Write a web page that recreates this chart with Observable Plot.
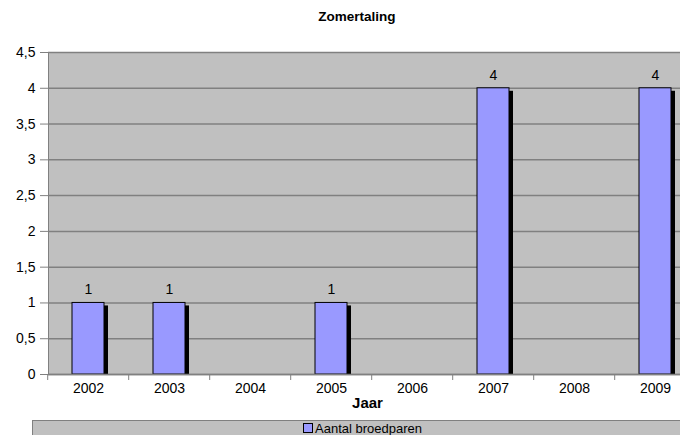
<!DOCTYPE html>
<html><head><meta charset="utf-8">
<script src="https://cdn.jsdelivr.net/npm/d3@7"></script>
<script src="https://cdn.jsdelivr.net/npm/@observablehq/plot@0.6"></script>
<style>
body{margin:0;background:#fff;font-family:"Liberation Sans",Arial,sans-serif;width:680px;height:435px;overflow:hidden;position:relative}
#title{position:absolute;left:0;top:9px;width:714px;text-align:center;font-weight:bold;font-size:13.5px;color:#000}
#chart{position:absolute;left:0;top:0}
#legend{position:absolute;left:32px;top:420px;width:700px;height:20px;background:#c0c0c0;border-top:1px solid #808080;border-left:1px solid #808080;box-sizing:border-box}
#legend .item{position:absolute;left:270px;top:0px;font-size:13px;line-height:15px;color:#000;white-space:nowrap}
#legend .sw{display:inline-block;width:8px;height:8px;background:#9999ff;border:1px solid #000;margin-right:2px;vertical-align:0px}
</style></head>
<body>
<div id="chart"></div>
<div id="title">Zomertaling</div>
<div id="legend"><span class="item"><span class="sw"></span>Aantal broedparen</span></div>
<script>
const years = ["2002","2003","2004","2005","2006","2007","2008","2009"];
const broedparen = [1, 1, 0, 1, 0, 4, 0, 4];
const yTicks = [0, 0.5, 1, 1.5, 2, 2.5, 3, 3.5, 4, 4.5];
const xLabel = "Jaar";
const seriesName = "Aantal broedparen";

const data = years.map((y, i) => ({jaar: y, n: broedparen[i]}));
const shown = data.filter(d => d.n > 0);
const comma = d => String(d).replace(".", ",");

const W = 680, ML = 48, MR = -21;
const step = (W - ML - MR) / years.length;

const plot = Plot.plot({
  width: W,
  height: 420,
  marginLeft: ML,
  marginRight: MR,
  marginTop: 52,
  marginBottom: 46,
  style: {fontFamily: "'Liberation Sans', Arial, sans-serif", background: "transparent", overflow: "visible"},
  x: {domain: years, paddingInner: 0.6, paddingOuter: 0.3, align: 0.45},
  y: {domain: [0, 4.5]},
  marks: [
    Plot.frame({fill: "#c0c0c0", stroke: null}),
    Plot.gridY(yTicks, {stroke: "#808080", strokeOpacity: 1, strokeWidth: 1.5}),
    Plot.frame({anchor: "left", stroke: "#808080", strokeWidth: 1}),
    Plot.axisY(yTicks, {tickFormat: comma, tickSize: 8, tickPadding: 5, stroke: "#808080", fontSize: 14, fill: "#000", label: null}),
    Plot.rectY(shown, {x: "jaar", y: "n", fill: "#000", dx: 4, dy: 3, insetBottom: 3}),
    Plot.barY(shown, {x: "jaar", y: "n", fill: "#9999ff", stroke: "#000", strokeWidth: 1}),
    Plot.ruleY([0], {stroke: "#808080", strokeWidth: 1.5}),
    Plot.axisX({tickSize: 6, dx: -step / 2, tickFormat: () => "", stroke: "#808080", label: null}),
    Plot.axisX({tickSize: 0, tickPadding: 9, fontSize: 14, fill: "#000", label: null}),
    Plot.text(shown, {x: "jaar", y: "n", text: d => String(d.n), dy: -13, fontSize: 14, fill: "#000"}),
    Plot.text([xLabel], {frameAnchor: "bottom", dx: 367 - (ML + (W - MR - ML) / 2), dy: 33, text: d => d, fontWeight: "bold", fontSize: 15, fill: "#000"})
  ]
});
document.getElementById("chart").appendChild(plot);
</script>
</body></html>
